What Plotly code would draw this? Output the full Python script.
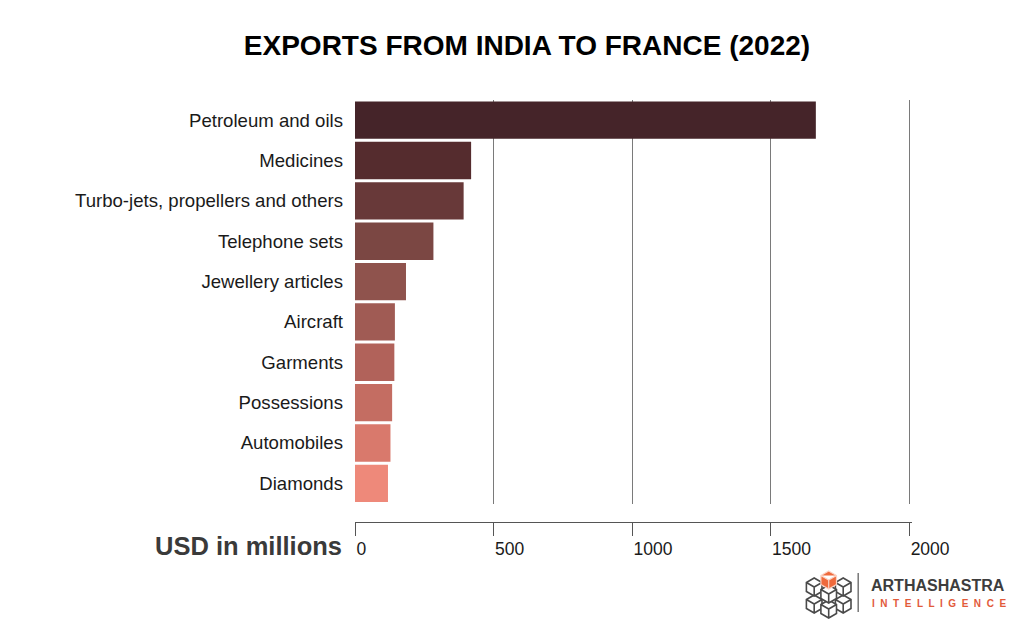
import plotly.graph_objects as go

# ---------------- data ----------------
categories = [
    "Petroleum and oils",
    "Medicines",
    "Turbo-jets, propellers and others",
    "Telephone sets",
    "Jewellery articles",
    "Aircraft",
    "Garments",
    "Possessions",
    "Automobiles",
    "Diamonds",
]
values = [1663, 419, 392, 283, 184, 144, 142, 134, 128, 119]
bar_colors = [
    "#452429", "#552c2e", "#683939", "#7b4743", "#8f534d",
    "#a05b54", "#b1625a", "#c46d62", "#d9796c", "#ee897a",
]
tick_values = [0, 500, 1000, 1500, 2000]
tick_labels = ["0", "500", "1000", "1500", "2000"]
x_max = 2010  # small headroom so the 2000 gridline is not clipped at the edge
x_range = [0, x_max]

title_text = "EXPORTS FROM INDIA TO FRANCE (2022)"
axis_title = "USD in millions"

# ---------------- layout geometry ----------------
W, H = 1024, 638
ML, MT, MB = 355, 100, 116
PW = 554 * x_max / 2000
MR = W - ML - PW
PH = H - MT - MB
FONT = "Liberation Sans, Arial, Helvetica, sans-serif"


def pp(px, py):
    """pixel -> paper coords (for decoration only)"""
    return (px - ML) / PW, (H - MB - py) / PH


fig = go.Figure()
fig.add_trace(go.Bar(
    y=categories,
    x=values,
    orientation="h",
    marker=dict(color=bar_colors, line=dict(width=0)),
    xaxis="x",
    yaxis="y",
    hovertemplate="%{y}: %{x}<extra></extra>",
))
# invisible companion trace so the separate tick axis (x2) is drawn
fig.add_trace(go.Scatter(
    y=categories,
    x=values,
    mode="markers",
    marker=dict(opacity=0, size=1),
    xaxis="x2",
    yaxis="y",
    hoverinfo="skip",
))

y_dom_bottom = (H - MB - 503.5) / PH

fig.update_layout(
    width=W,
    height=H,
    margin=dict(l=ML, r=MR, t=MT, b=MB),
    paper_bgcolor="white",
    plot_bgcolor="white",
    showlegend=False,
    bargap=0.075,
    font=dict(family=FONT, color="#1a1a1a"),
    title=dict(
        text=f"<b>{title_text}</b>",
        x=527 / W, xanchor="center",
        y=1 - 45 / H, yanchor="middle",
        font=dict(size=28, color="#000000", family=FONT),
    ),
    xaxis=dict(
        range=x_range,
        anchor="y",
        showgrid=True,
        gridcolor="#7a7a7a",
        gridwidth=1.4,
        tickvals=tick_values[1:],
        showticklabels=False,
        ticks="",
        zeroline=False,
        showline=False,
        fixedrange=True,
    ),
    xaxis2=dict(
        range=x_range,
        overlaying="x",
        anchor="free",
        position=0,
        side="bottom",
        showgrid=False,
        zeroline=False,
        showline=True,
        linecolor="#555555",
        linewidth=1.4,
        ticks="outside",
        ticklen=13,
        tickwidth=1.4,
        tickcolor="#555555",
        tickvals=tick_values,
        ticktext=tick_labels,
        ticklabelposition="outside right",
        ticklabelstandoff=11,
        tickfont=dict(size=17.5, color="#1a1a1a", family=FONT),
        fixedrange=True,
    ),
    yaxis=dict(
        domain=[y_dom_bottom, 1],
        categoryorder="array",
        categoryarray=categories,
        range=[len(categories) - 0.5, -0.5],
        autorange=False,
        showgrid=False,
        zeroline=False,
        showline=False,
        ticks="",
        ticklabelstandoff=11,
        tickfont=dict(size=18.6, color="#1a1a1a", family=FONT),
        fixedrange=True,
    ),
)

# axis title "USD in millions"
fig.add_annotation(
    text=f"<b>{axis_title}</b>",
    xref="paper", yref="paper",
    x=pp(344, 0)[0], y=pp(0, 546)[1],
    xanchor="right", yanchor="middle",
    showarrow=False,
    font=dict(size=25.5, color="#3a3a3a", family=FONT),
)

# ---------------- logo (decoration) ----------------
def cube_path(cx, cy, s):
    k = 0.866 * s
    pts = [(cx, cy - s), (cx + k, cy - s / 2), (cx + k, cy + s / 2),
           (cx, cy + s), (cx - k, cy + s / 2), (cx - k, cy - s / 2)]
    p = [pp(*q) for q in pts]
    c = pp(cx, cy)
    d = "M " + " L ".join(f"{a:.5f},{b:.5f}" for a, b in p) + " Z"
    ul, ur, bt = p[5], p[1], p[3]
    d += f" M {ul[0]:.5f},{ul[1]:.5f} L {c[0]:.5f},{c[1]:.5f} L {ur[0]:.5f},{ur[1]:.5f}"
    d += f" M {c[0]:.5f},{c[1]:.5f} L {bt[0]:.5f},{bt[1]:.5f}"
    return d

s = 9.0
grey_cubes = [(814, 604), (843, 604), (828.5, 609), (814, 587), (843, 587), (828.5, 594)]
for cx, cy in grey_cubes:
    fig.add_shape(type="path", path=cube_path(cx, cy, s), xref="paper", yref="paper",
                  line=dict(color="#4a4a4a", width=1.6), fillcolor="white", layer="above")
fig.add_shape(type="path", path=cube_path(828.5, 580, s), xref="paper", yref="paper",
              line=dict(color="#fbd3c4", width=1.2), fillcolor="#ef6a3c", layer="above")

# divider
x0, y0 = pp(858, 573)
x1, y1 = pp(858, 612)
fig.add_shape(type="line", x0=x0, y0=y0, x1=x1, y1=y1, xref="paper", yref="paper",
              line=dict(color="#777777", width=1.5), layer="above")

lx, ly = pp(869, 585)
fig.add_annotation(text="<b>ARTHASHASTRA</b>", xref="paper", yref="paper",
                   x=lx, y=ly, xanchor="left", yanchor="middle", showarrow=False,
                   font=dict(size=16, color="#3d3d3d", family=FONT))
lx, ly = pp(870, 603)
fig.add_annotation(text="<b>" + " \u00a0".join("INTELLIGENCE") + "</b>", xref="paper", yref="paper",
                   x=lx, y=ly, xanchor="left", yanchor="middle", showarrow=False,
                   font=dict(size=10, color="#e25a3a", family=FONT))

fig.write_html(
    "out.html",
    config={"displayModeBar": False},
    post_script="document.body.style.margin='0';document.body.style.padding='0';",
)
